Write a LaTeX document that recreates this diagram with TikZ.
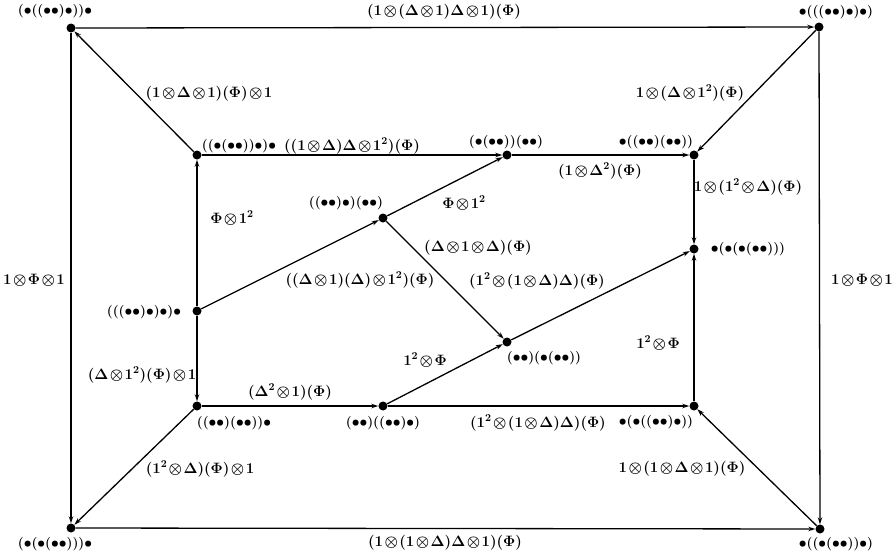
\RequirePackage{fix-cm}
\documentclass[tikz,border=0pt]{standalone}
\usepackage{amsmath,amssymb}
\usetikzlibrary{arrows.meta}
\newcommand{\bu}{\mathord{\bullet}}
\newcommand{\one}{\mathbf{1}}
\newcommand{\tp}{\mskip1.5mu{\otimes}\mskip1.5mu}
\begin{document}
\begin{tikzpicture}[x=1pt,y=-1pt,
  dot/.style={circle,fill=black,inner sep=0pt,minimum size=9pt},
  txt/.style={inner sep=0pt,font=\fontsize{15}{17}\selectfont\bfseries\boldmath},
  vtxt/.style={inner sep=0pt,font=\fontsize{13.5}{16}\selectfont\bfseries\boldmath},
  arr/.style={line width=1.3pt,-{Stealth[length=7pt,width=4.5pt]}}]
\useasboundingbox (0,0) rectangle (892,557);
% vertices
\node[dot] (TL) at (71,28) {};
\node[dot] (TR) at (819,27) {};
\node[dot] (BL) at (71,528) {};
\node[dot] (BR) at (820,529) {};
\node[dot] (A) at (197,155) {};
\node[dot] (B) at (507,155) {};
\node[dot] (C) at (694,155) {};
\node[dot] (D) at (383,218) {};
\node[dot] (E) at (197,311) {};
\node[dot] (F) at (694,249) {};
\node[dot] (G) at (507,342) {};
\node[dot] (H) at (197,406) {};
\node[dot] (I) at (383,406) {};
\node[dot] (J) at (694,406) {};
% vertex labels
\node[vtxt] (tTL) at (55,11) {$(\bu((\bu\bu)\bu))\bu$};
\node[vtxt] (tTR) at (836,12) {$\bu(((\bu\bu)\bu)\bu)$};
\node[vtxt] (tBL) at (55,544) {$(\bu(\bu(\bu\bu)))\bu$};
\node[vtxt] (tBR) at (836,544) {$\bu((\bu(\bu\bu))\bu)$};
\node[vtxt] (tA) at (239,146) {$((\bu(\bu\bu))\bu)\bu$};
\node[vtxt] (tB) at (506,142) {$(\bu(\bu\bu))(\bu\bu)$};
\node[vtxt] (tC) at (656,142) {$\bu((\bu\bu)(\bu\bu))$};
\node[vtxt] (tD) at (346,203) {$((\bu\bu)\bu)(\bu\bu)$};
\node[vtxt] (tE) at (144,312) {$(((\bu\bu)\bu)\bu)\bu$};
\node[vtxt] (tF) at (748,249) {$\bu(\bu(\bu(\bu\bu)))$};
\node[vtxt] (tG) at (544,358) {$(\bu\bu)(\bu(\bu\bu))$};
\node[vtxt] (tH) at (234,423) {$((\bu\bu)(\bu\bu))\bu$};
\node[vtxt] (tI) at (383,423) {$(\bu\bu)((\bu\bu)\bu)$};
\node[vtxt] (tJ) at (656,422) {$\bu(\bu((\bu\bu)\bu))$};
% edges
\draw[arr] (TL) -- (TR);
\draw[arr] (TL) -- (BL);
\draw[arr] (TR) -- (BR);
\draw[arr] (BL) -- (BR);
\draw[arr] (A) -- (TL);
\draw[arr] (TR) -- (C);
\draw[arr] (H) -- (BL);
\draw[arr] (BR) -- (J);
\draw[arr] (A) -- (B);
\draw[arr] (B) -- (C);
\draw[arr] (C) -- (F);
\draw[arr] (E) -- (A);
\draw[arr] (E) -- (H);
\draw[arr] (E) -- (D);
\draw[arr] (D) -- (B);
\draw[arr] (D) -- (G);
\draw[arr] (G) -- (F);
\draw[arr] (H) -- (I);
\draw[arr] (I) -- (G);
\draw[arr] (I) -- (J);
\draw[arr] (J) -- (F);
% edge labels
\node[txt] (e1) at (444,12) {$(\one\tp(\Delta\tp\one)\Delta\tp\one)(\Phi)$};
\node[txt] (e2) at (445,543) {$(\one\tp(\one\tp\Delta)\Delta\tp\one)(\Phi)$};
\node[txt] (e3) at (34,280) {$1\tp\Phi\tp1$};
\node[txt] (e4) at (862,280) {$1\tp\Phi\tp1$};
\node[txt] (e5) at (209,94) {$(\one\tp\Delta\tp\one)(\Phi)\tp1$};
\node[txt] (e6) at (690,93) {$1\tp(\Delta\tp\one^2)(\Phi)$};
\node[txt] (e7) at (200,469) {$(\one^2\tp\Delta)(\Phi)\tp1$};
\node[txt] (e8) at (682,469) {$1\tp(\one\tp\Delta\tp\one)(\Phi)$};
\node[txt] (e9) at (352,146) {$((\one\tp\Delta)\Delta\tp\one^2)(\Phi)$};
\node[txt] (e10) at (600,171) {$(\one\tp\Delta^2)(\Phi)$};
\node[txt] (e11) at (748,187) {$1\tp(\one^2\tp\Delta)(\Phi)$};
\node[txt] (e12) at (232,218) {$\Phi\tp1^2$};
\node[txt] (e13) at (142,375) {$(\Delta\tp\one^2)(\Phi)\tp1$};
\node[txt] (e14) at (360,280) {$((\Delta\tp\one)(\Delta)\tp\one^2)(\Phi)$};
\node[txt] (e15) at (464,203) {$\Phi\tp1^2$};
\node[txt] (e16) at (478,248) {$(\Delta\tp\one\tp\Delta)(\Phi)$};
\node[txt] (e17) at (537,281) {$(\one^2\tp(\one\tp\Delta)\Delta)(\Phi)$};
\node[txt] (e18) at (290,392) {$(\Delta^2\tp\one)(\Phi)$};
\node[txt] (e19) at (425,360) {$1^2\tp\Phi$};
\node[txt] (e20) at (538,423) {$(\one^2\tp(\one\tp\Delta)\Delta)(\Phi)$};
\node[txt] (e21) at (658,343) {$1^2\tp\Phi$};
\end{tikzpicture}
\end{document}
